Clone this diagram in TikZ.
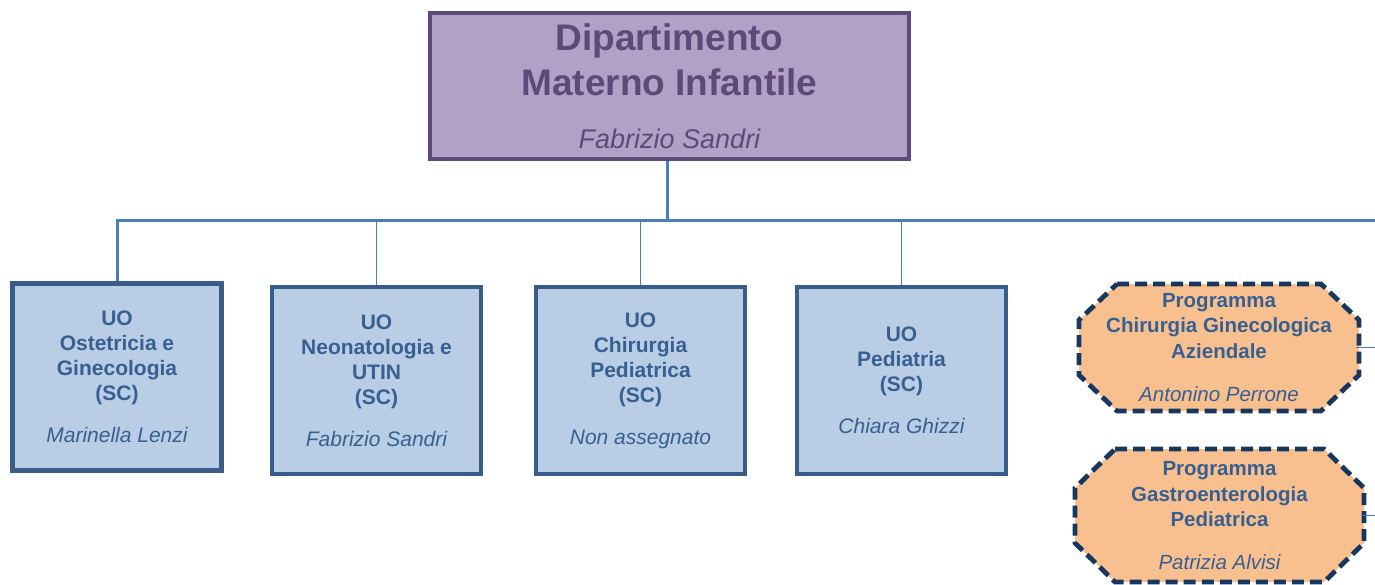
\documentclass[tikz,border=0pt]{standalone}
\usepackage{fontspec}
\setmainfont{Liberation Sans}
\usetikzlibrary{backgrounds}
\definecolor{deptfill}{HTML}{B2A1C7}
\definecolor{deptline}{HTML}{5F497A}
\definecolor{uofill}{HTML}{B9CDE5}
\definecolor{uoline}{HTML}{385D8A}
\definecolor{uotext}{HTML}{376092}
\definecolor{progfill}{HTML}{F9C08F}
\definecolor{progline}{HTML}{17375E}
\definecolor{wireblue}{HTML}{4A7EBB}

\tikzset{
  dept/.style={draw=deptline, fill=deptfill, line width=4pt, text=deptline,
    align=center, inner sep=0pt, minimum width=479pt, minimum height=146pt,
    font=\fontsize{37}{45}\selectfont\bfseries},
  uobox/.style={draw=uoline, fill=uofill, line width=4.5pt, text=uotext,
    align=center, inner sep=0pt, minimum width=209pt, minimum height=187pt,
    font=\fontsize{21}{25}\selectfont\bfseries},
  progbox/.style={text=uotext, align=center, inner sep=0pt, outer sep=0pt,
    font=\fontsize{20.5}{25.5}\selectfont\bfseries},
  progedge/.style={draw=progline, fill=progfill, line width=4.8pt,
    dash pattern=on 12pt off 6pt},
  trunk/.style={draw=wireblue, line width=3pt},
  branch/.style={draw=wireblue, line width=1.6pt},
}

% octagon round a node: name, x cut, y cut
\newcommand\progshape[3]{%
  \path[progedge] ([xshift=#2]#1.north west) -- ([xshift=-#2]#1.north east)
    -- ([yshift=-#3]#1.north east) -- ([yshift=#3]#1.south east)
    -- ([xshift=-#2]#1.south east) -- ([xshift=#2]#1.south west)
    -- ([yshift=#3]#1.south west) -- ([yshift=-#3]#1.north west) -- cycle;}

\begin{document}
\begin{tikzpicture}[x=1pt, y=1pt]
  \useasboundingbox (0,0) rectangle (1375,-584);

  \node[dept] (dept) at (669.5,-86) {Dipartimento\\Materno Infantile\\[8pt]%
    {\fontsize{27}{32}\selectfont\mdseries\itshape Fabrizio Sandri}};

  \node[uobox] (uo1) at (117,-377) {UO\\Ostetricia e\\Ginecologia\\(SC)\\[17pt]%
    {\mdseries\itshape Marinella Lenzi}};
  \node[uobox] (uo2) at (376.5,-380.5) {UO\\Neonatologia e\\UTIN\\(SC)\\[17pt]%
    {\mdseries\itshape Fabrizio Sandri}};
  \node[uobox] (uo3) at (640.5,-380.5) {UO\\Chirurgia\\Pediatrica\\(SC)\\[17pt]%
    {\mdseries\itshape Non assegnato}};
  \node[uobox] (uo4) at (901.5,-380.5) {UO\\Pediatria\\(SC)\\[17pt]%
    {\mdseries\itshape Chiara Ghizzi}};

  \node[progbox, minimum width=280pt, minimum height=127pt] (prog1) at (1219,-347.5)
    {Programma\\Chirurgia Ginecologica\\Aziendale\\[18pt]%
    {\mdseries\itshape Antonino Perrone}};
  \node[progbox, minimum width=289pt, minimum height=133pt] (prog2) at (1219.5,-515.5)
    {Programma\\Gastroenterologia\\Pediatrica\\[17pt]%
    {\mdseries\itshape Patrizia Alvisi}};
  \begin{scope}[on background layer]
    \progshape{prog1}{38pt}{36pt}
    \progshape{prog2}{40pt}{39pt}
  \end{scope}

  \coordinate (busL) at (117,-220);
  \coordinate (busR) at (1375,-220);

  \draw[trunk] ([xshift=-2.5pt]dept.south) -- ([xshift=-2.5pt]dept.south |- busR);
  \draw[trunk] (busR) -- (busL) -- (uo1.north);
  \foreach \unit in {uo2,uo3,uo4}
    \draw[branch] (\unit.north) -- (\unit.north |- busR);
  \draw[branch] ([xshift=-3pt]prog1.east) -- (prog1.east -| busR);
  \draw[branch] ([xshift=-3pt]prog2.east) -- (prog2.east -| busR);
\end{tikzpicture}
\end{document}
